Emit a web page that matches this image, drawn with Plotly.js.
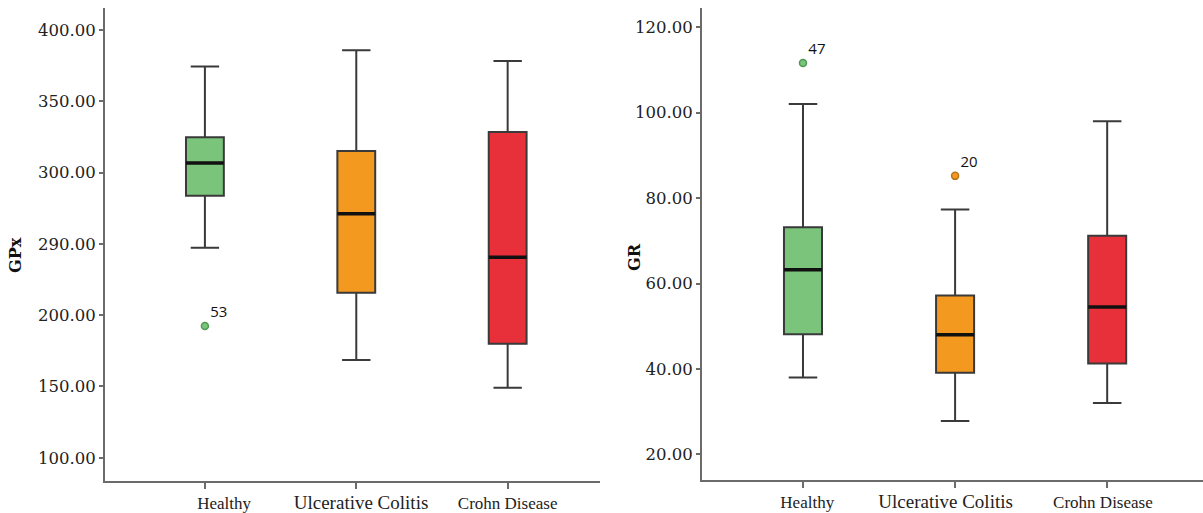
<!DOCTYPE html>
<html>
<head>
<meta charset="utf-8">
<script src="https://cdn.plot.ly/plotly-3.0.1.min.js"></script>
<style>html,body{margin:0;padding:0;background:#fff;}#chart{width:1203px;height:513px;}</style>
</head>
<body>
<div id="chart"></div>
<script>
// ---- data ----
var categories = ["Healthy", "Ulcerative Colitis", "Crohn Disease"];
var categoryLabelsLeft = ["&nbsp;&nbsp;&nbsp;&nbsp;&nbsp;&nbsp;&nbsp;&nbsp;&nbsp;Healthy", "<span style=\"font-size:19px\">&nbsp;&nbsp;Ulcerative Colitis</span>", "Crohn Disease"];
var categoryLabelsRight = ["&nbsp;&nbsp;Healthy", "<span style=\"font-size:19px\">Ulcerative Colitis&nbsp;&nbsp;&nbsp;&nbsp;</span>", "Crohn Disease&nbsp;&nbsp;"];
var colors = ["#7bc47c", "#f4991f", "#e8303a"];
var borderColors = ["#4e9a55", "#b8741a", "#a8262d"];

// GPx (left panel)
var gpxLower  = [247.3, 168.5, 149.1];
var gpxQ1     = [283.8, 215.7, 180.0];
var gpxMedian = [306.7, 271.2, 240.6];
var gpxQ3     = [324.7, 315.1, 328.5];
var gpxUpper  = [374.3, 385.7, 378.3];
var gpxOutlierCat = ["Healthy"];
var gpxOutlierVal = [192.4];
var gpxOutlierLbl = ["53"];
var gpxTickVals = [100, 150, 200, 250, 300, 350, 400];
var gpxTickText = ["100.00", "150.00", "200.00", "290.00", "300.00", "350.00", "400.00"];

// GR (right panel)
var grLower  = [38.0, 27.8, 32.0];
var grQ1     = [48.1, 39.1, 41.3];
var grMedian = [63.2, 48.0, 54.5];
var grQ3     = [73.2, 57.2, 71.2];
var grUpper  = [102.0, 77.3, 98.0];
var grOutlierCat = ["Healthy", "Ulcerative Colitis"];
var grOutlierVal = [111.6, 85.2];
var grOutlierLbl = ["47", "20"];
var grTickVals = [20, 40, 60, 80, 100, 120];
var grTickText = ["20.00", "40.00", "60.00", "80.00", "100.00", "120.00"];

// ---- traces ----
var traces = [];
function addBoxes(xa, ya, lo, q1, med, q3, up) {
  for (var i = 0; i < categories.length; i++) {
    traces.push({
      type: "box", xaxis: xa, yaxis: ya,
      x: [categories[i]],
      lowerfence: [lo[i]], q1: [q1[i]], median: [med[i]], q3: [q3[i]], upperfence: [up[i]],
      fillcolor: colors[i],
      line: {color: "#3a3a3a", width: 2},
      width: 0.25, whiskerwidth: 0.75,
      boxpoints: false, showlegend: false, hoverinfo: "skip"
    });
    // median overlay (thick black)
    traces.push({
      type: "box", xaxis: xa, yaxis: ya,
      x: [categories[i]],
      lowerfence: [med[i]], q1: [med[i]], median: [med[i]], q3: [med[i]], upperfence: [med[i]],
      fillcolor: "rgba(0,0,0,0)",
      line: {color: "#111", width: 3.5},
      width: 0.25, whiskerwidth: 0,
      boxpoints: false, showlegend: false, hoverinfo: "skip"
    });
  }
}
addBoxes("x", "y", gpxLower, gpxQ1, gpxMedian, gpxQ3, gpxUpper);
addBoxes("x2", "y2", grLower, grQ1, grMedian, grQ3, grUpper);

function outlierColors(cats) {
  return cats.map(function (c) { return colors[categories.indexOf(c)]; });
}
function outlierBorders(cats) {
  return cats.map(function (c) { return borderColors[categories.indexOf(c)]; });
}
var numFont = {family: "Open Sans, DejaVu Sans, sans-serif", size: 15, color: "#111"};
traces.push({
  type: "scatter", mode: "markers+text", xaxis: "x", yaxis: "y",
  x: gpxOutlierCat, y: gpxOutlierVal, text: gpxOutlierLbl,
  textposition: "top right", textfont: numFont,
  marker: {size: 7, color: outlierColors(gpxOutlierCat), line: {color: outlierBorders(gpxOutlierCat), width: 1.5}},
  showlegend: false, hoverinfo: "skip", cliponaxis: false
});
traces.push({
  type: "scatter", mode: "markers+text", xaxis: "x2", yaxis: "y2",
  x: grOutlierCat, y: grOutlierVal, text: grOutlierLbl,
  textposition: "top right", textfont: numFont,
  marker: {size: 7, color: outlierColors(grOutlierCat), line: {color: outlierBorders(grOutlierCat), width: 1.5}},
  showlegend: false, hoverinfo: "skip", cliponaxis: false
});

var yTickFont = {family: "DejaVu Serif, serif", size: 16.5, color: "#222"};
var xTickFont = {family: "Liberation Serif, serif", size: 17, color: "#222"};
var xCommon = {
  type: "category", categoryorder: "array", categoryarray: categories,
  tickvals: categories,
  showline: true, linecolor: "#6b6b6b", linewidth: 2,
  ticks: "outside", ticklen: 6, tickwidth: 2, tickcolor: "#6b6b6b",
  showgrid: false, zeroline: false, tickfont: xTickFont, fixedrange: true
};
var yCommon = {
  showline: true, linecolor: "#6b6b6b", linewidth: 2,
  ticks: "outside", ticklen: 4, tickwidth: 2, tickcolor: "#6b6b6b",
  showgrid: false, zeroline: false, tickfont: yTickFont, fixedrange: true,
  tickmode: "array"
};
var titleFont = {family: "DejaVu Serif, serif", size: 16, color: "#111"};

var layout = {
  width: 1203, height: 513,
  margin: {l: 0, r: 0, t: 0, b: 0},
  paper_bgcolor: "#fff", plot_bgcolor: "#fff",
  showlegend: false,
  xaxis: Object.assign({}, xCommon, {domain: [105/1203, 600/1203], range: [-0.66, 2.61], anchor: "y", ticktext: categoryLabelsLeft}),
  yaxis: Object.assign({}, yCommon, {
    domain: [1 - 481/513, 1 - 8/513], range: [83.7, 415.4], anchor: "x",
    tickvals: gpxTickVals, ticktext: gpxTickText
  }),
  xaxis2: Object.assign({}, xCommon, {domain: [702/1203, 1], range: [-0.664, 2.63], anchor: "y2", ticktext: categoryLabelsRight}),
  yaxis2: Object.assign({}, yCommon, {
    domain: [1 - 480/513, 1 - 8/513], range: [14.0, 124.5], anchor: "x2",
    tickvals: grTickVals, ticktext: grTickText
  }),
  annotations: [
    {text: "<b>GPx</b>", xref: "paper", yref: "paper", x: 16/1203, y: 1 - 255/513,
     textangle: -90, showarrow: false, font: titleFont, xanchor: "center", yanchor: "middle"},
    {text: "<b>GR</b>", xref: "paper", yref: "paper", x: 634/1203, y: 1 - 257/513,
     textangle: -90, showarrow: false, font: titleFont, xanchor: "center", yanchor: "middle"}
  ]
};

Plotly.newPlot("chart", traces, layout, {staticPlot: true, displayModeBar: false});
</script>
</body>
</html>
